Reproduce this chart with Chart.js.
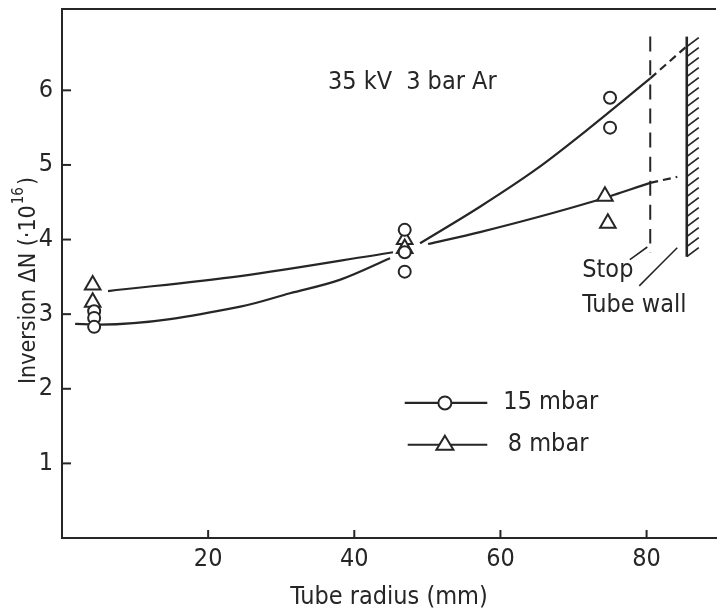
<!DOCTYPE html>
<html>
<head>
<meta charset="utf-8">
<script src="https://cdn.jsdelivr.net/npm/chart.js@4.4.0/dist/chart.umd.min.js"></script>
<style>
body{margin:0;background:#fff}
canvas{display:block}
</style>
</head>
<body>
<canvas id="chart-id-inversion" width="718" height="611"></canvas>
<script>
var FONT = "'Liberation Sans Narrow', 'DejaVu Sans Condensed', sans-serif";
var INK = '#262626';

// measured points: tube radius (mm) / inversion (1e16)
var circle15X = [4.4, 4.4, 4.4, 46.9, 46.9, 46.9, 75.0, 75.0];
var circle15Y = [3.04, 2.95, 2.83, 4.13, 3.83, 3.57, 5.90, 5.50];
var tri8X = [4.2, 4.2, 46.9, 46.9, 74.3, 74.7];
var tri8Y = [3.39, 3.16, 4.00, 3.88, 4.58, 4.22];

// curves as drawn in the figure (null = break)
var curve15X = [1.8, 5.2, 24.4, 31.2, 38.0, 44.9, 47.0, 49.0, 57.2, 65.0, 72.0, 80.5];
var curve15Y = [2.87, 2.86, 3.10, 3.28, 3.46, 3.75, null, 3.95, 4.44, 4.95, 5.48, 6.16];
var ext15X = [80.5, 85.6];
var ext15Y = [6.16, 6.60];
var curve8X = [6.3, 24.4, 45.3, 47.5, 50.1, 57.2, 72.3, 80.5];
var curve8Y = [3.31, 3.51, 3.83, null, 3.94, 4.10, 4.50, 4.76];
var ext8X = [80.5, 84.2];
var ext8Y = [4.76, 4.84];

var stopX = [80.5, 80.5];
var stopY = [6.72, 3.82];
var wallX = [85.5, 85.5];
var wallY = [6.72, 3.77];
var stopLeadX = [77.7, 80.1];
var stopLeadY = [3.73, 3.90];
var wallLeadX = [79.0, 84.2];
var wallLeadY = [3.38, 3.89];

var xTicks = [20, 40, 60, 80];
var yTicks = [1, 2, 3, 4, 5, 6];

function pts(xs, ys) {
  return xs.map(function(x, i) { return {x: x, y: ys[i]}; });
}

function lineSet(xs, ys, w, dash) {
  return {
    data: pts(xs, ys), showLine: true, pointRadius: 0, borderColor: INK,
    borderWidth: w, borderDash: dash || [], cubicInterpolationMode: 'monotone',
    spanGaps: false, fill: false
  };
}

// texts, hatching, inward ticks etc.
var extras = {
  id: 'extras',
  afterDraw: function(chart) {
    var ctx = chart.ctx;
    var xs = chart.scales.x, ys = chart.scales.y;
    var a = chart.chartArea;
    ctx.save();
    ctx.strokeStyle = INK;
    ctx.fillStyle = INK;
    ctx.lineCap = 'butt';

    // top frame
    ctx.lineWidth = 2;
    ctx.beginPath();
    ctx.moveTo(a.left, a.top);
    ctx.lineTo(a.right, a.top);
    ctx.stroke();

    // inward ticks
    yTicks.forEach(function(v) {
      var py = ys.getPixelForValue(v);
      ctx.beginPath(); ctx.moveTo(a.left, py); ctx.lineTo(a.left + 9, py); ctx.stroke();
    });
    xTicks.forEach(function(v) {
      var px = xs.getPixelForValue(v);
      ctx.beginPath(); ctx.moveTo(px, a.bottom); ctx.lineTo(px, a.bottom - 8); ctx.stroke();
    });

    // wall hatching
    var wx = xs.getPixelForValue(wallX[0]);
    var wTop = ys.getPixelForValue(wallY[0]);
    var wBot = ys.getPixelForValue(wallY[1]);
    ctx.lineWidth = 1.8;
    for (var y = wTop + 10; y <= wBot + 1; y += 10) {
      ctx.beginPath(); ctx.moveTo(wx, y); ctx.lineTo(wx + 12, y - 9); ctx.stroke();
    }

    // annotation texts
    ctx.font = '25px ' + FONT;
    ctx.textBaseline = 'middle';
    ctx.textAlign = 'left';
    ctx.fillText('35 kV', xs.getPixelForValue(36.4), ys.getPixelForValue(6.1));
    ctx.fillText('3 bar Ar', xs.getPixelForValue(47.1), ys.getPixelForValue(6.1));
    ctx.fillText('Stop', xs.getPixelForValue(71.2), ys.getPixelForValue(3.59));
    ctx.fillText('Tube wall', xs.getPixelForValue(71.2), ys.getPixelForValue(3.12));

    // legend
    var lx0 = xs.getPixelForValue(46.9), lx1 = xs.getPixelForValue(58.2), lxm = xs.getPixelForValue(52.4);
    var ly1 = ys.getPixelForValue(1.81), ly2 = ys.getPixelForValue(1.25);
    ctx.lineWidth = 2.2;
    ctx.beginPath(); ctx.moveTo(lx0, ly1); ctx.lineTo(lx1, ly1); ctx.stroke();
    ctx.beginPath(); ctx.moveTo(lx0 + 3, ly2); ctx.lineTo(lx1, ly2); ctx.stroke();
    ctx.lineWidth = 2;
    ctx.fillStyle = '#fff';
    ctx.beginPath(); ctx.arc(lxm, ly1, 6.5, 0, Math.PI * 2); ctx.fill(); ctx.stroke();
    ctx.beginPath();
    ctx.moveTo(lxm, ly2 - 9); ctx.lineTo(lxm + 8.5, ly2 + 5); ctx.lineTo(lxm - 8.5, ly2 + 5); ctx.closePath();
    ctx.fill(); ctx.stroke();
    ctx.fillStyle = INK;
    ctx.fillText('15 mbar', xs.getPixelForValue(60.4), ly1);
    ctx.fillText('8 mbar', xs.getPixelForValue(61.0), ly2);

    // x title
    ctx.textAlign = 'center';
    ctx.fillText('Tube radius (mm)', (a.left + a.right) / 2, 597);

    // y title with superscript
    ctx.font = '23px ' + FONT;
    ctx.translate(35, 384);
    ctx.rotate(-Math.PI / 2);
    ctx.textAlign = 'left';
    ctx.textBaseline = 'alphabetic';
    var s1 = 'Inversion \u0394N (\u00b710';
    ctx.fillText(s1, 0, 0);
    var w1 = ctx.measureText(s1).width;
    ctx.font = '15px ' + FONT;
    ctx.fillText('16', w1 + 1, -12);
    var w2 = ctx.measureText('16').width;
    ctx.font = '23px ' + FONT;
    ctx.fillText(')', w1 + w2 + 3, 0);
    ctx.restore();
  }
};

var ctx = document.getElementById('chart-id-inversion').getContext('2d');
new Chart(ctx, {
  type: 'scatter',
  data: {
    datasets: [
      {data: pts(circle15X, circle15Y), pointStyle: 'circle', pointRadius: 6, borderWidth: 2,
       borderColor: INK, backgroundColor: '#fff', showLine: false},
      {data: pts(tri8X, tri8Y), pointStyle: 'triangle', pointRadius: 9, borderWidth: 2,
       borderColor: INK, backgroundColor: '#fff', showLine: false},
      lineSet(curve15X, curve15Y, 2.2),
      lineSet(ext15X, ext15Y, 2.2, [8, 5]),
      lineSet(curve8X, curve8Y, 2.2),
      lineSet(ext8X, ext8Y, 2.2, [8, 5]),
      lineSet(stopX, stopY, 2, [15, 9]),
      lineSet(wallX, wallY, 2.6),
      lineSet(stopLeadX, stopLeadY, 1.6),
      lineSet(wallLeadX, wallLeadY, 1.6)
    ]
  },
  options: {
    responsive: false,
    animation: false,
    layout: {autoPadding: false, padding: {top: 9, right: 2, left: 0, bottom: 0}},
    plugins: {legend: {display: false}, tooltip: {enabled: false}},
    scales: {
      x: {
        type: 'linear', min: 0, max: 89.5,
        grid: {display: false, drawTicks: false},
        border: {display: true, color: INK, width: 2},
        afterBuildTicks: function(s) { s.ticks = xTicks.map(function(v) { return {value: v}; }); },
        afterFit: function(s) { s.height = 73; s.paddingLeft = 0; s.paddingRight = 0; },
        ticks: {color: INK, padding: 6, maxRotation: 0, font: {family: FONT, size: 25}}
      },
      y: {
        type: 'linear', min: 0, max: 7.09,
        grid: {display: false, drawTicks: false},
        border: {display: true, color: INK, width: 2},
        afterBuildTicks: function(s) { s.ticks = yTicks.map(function(v) { return {value: v}; }); },
        afterFit: function(s) { s.width = 62; s.paddingTop = 0; s.paddingBottom = 0; },
        ticks: {color: INK, padding: 9, font: {family: FONT, size: 25}}
      }
    }
  },
  plugins: [extras]
});
</script>
</body>
</html>
